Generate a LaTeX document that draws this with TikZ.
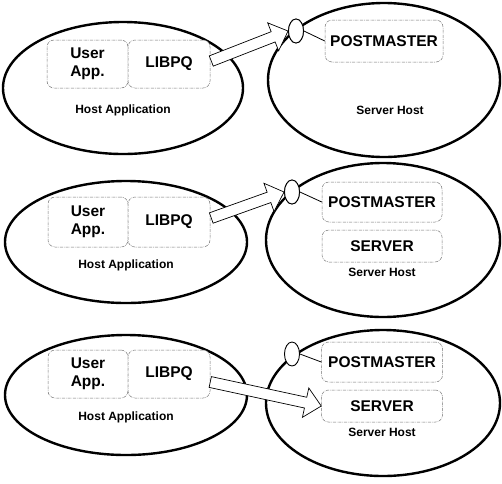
\documentclass[tikz,border=0pt]{standalone}
\usepackage{fontspec}
\setmainfont{Liberation Sans}
\usetikzlibrary{shapes.geometric,calc}
\tikzset{
  host/.style={ellipse,draw=black,line width=2.4pt,fill=white,inner sep=0pt},
  portsty/.style={ellipse,draw=black,line width=0.9pt,fill=white,inner sep=0pt,minimum width=15pt,minimum height=24pt},
  boxsty/.style={rectangle,rounded corners=7pt,draw=black!55,line width=0.5pt,
     dash pattern=on 3pt off 1pt on 0.6pt off 1pt,fill=white,inner sep=0pt,
     font=\fontsize{15.5}{18}\selectfont\bfseries,align=center},
  lbl/.style={font=\fontsize{12}{14}\selectfont\bfseries,inner sep=0pt},
  arrowsty/.style={draw=black,line width=0.7pt,fill=white,line join=miter},
  wire/.style={draw=black,line width=0.8pt}
}
\newcommand{\holarrow}[2]{%
  \coordinate (hbase) at ($(#2)!16pt!(#1)$);
  \filldraw[arrowsty] ($(#1)!5.5pt!90:(#2)$) -- ($(hbase)!5.5pt!90:(#2)$)
    -- ($(hbase)!15pt!90:(#2)$) -- (#2) -- ($(hbase)!15pt!-90:(#2)$)
    -- ($(hbase)!5.5pt!-90:(#2)$) -- ($(#1)!5.5pt!-90:(#2)$) -- cycle;}
\begin{document}
\begin{tikzpicture}[x=1pt,y=-1pt]
\useasboundingbox (0,0) rectangle (502,483);
% ---------- panel 1 ----------
\node[host,minimum width=240pt,minimum height=132pt] (h1) at (123,88) {};
\node[host,minimum width=232pt,minimum height=154pt] (s1) at (384,80) {};
\node[boxsty,minimum width=81pt,minimum height=48pt] (app1) at (87.5,64) {User\\App.};
\node[boxsty,minimum width=82pt,minimum height=48pt] (lib1) at (169,64) {LIBPQ};
\node[lbl] (hl1) at (123,110) {Host Application};
\node[boxsty,minimum width=118pt,minimum height=42pt] (pm1) at (384,41) {POSTMASTER};
\node[lbl] (sl1) at (390,110) {Server Host};
\coordinate (t1) at ($(lib1.east)+(1,-3)$);
\node[portsty] (port1) at (296,31) {};
\holarrow{t1}{port1.west}
\node[portsty] at (port1) {};
\draw[wire] (port1.east) -- (pm1.west);
% ---------- panel 2 ----------
\node[host,minimum width=242pt,minimum height=122pt] (h2) at (126,242) {};
\node[host,minimum width=234pt,minimum height=154pt] (s2) at (383,240) {};
\node[boxsty,minimum width=80pt,minimum height=50pt] (app2) at (88,222) {User\\App.};
\node[boxsty,minimum width=82pt,minimum height=50pt] (lib2) at (169,222) {LIBPQ};
\node[lbl] (hl2) at (126,265) {Host Application};
\node[boxsty,minimum width=120pt,minimum height=40pt] (pm2) at (382,202) {POSTMASTER};
\node[boxsty,minimum width=120pt,minimum height=32pt] (sv2) at (382,246) {SERVER};
\node[lbl] (sl2) at (382,272) {Server Host};
\coordinate (t2) at ($(lib2.east)+(1,-4)$);
\node[portsty] (port2) at (292,192) {};
\holarrow{t2}{port2.west}
\node[portsty] at (port2) {};
\draw[wire] (port2.east) -- (pm2.west);
% ---------- panel 3 ----------
\node[host,minimum width=242pt,minimum height=120pt] (h3) at (126,395) {};
\node[host,minimum width=234pt,minimum height=146pt] (s3) at (383,403) {};
\node[boxsty,minimum width=80pt,minimum height=48pt] (app3) at (88,374) {User\\App.};
\node[boxsty,minimum width=82pt,minimum height=48pt] (lib3) at (169,374) {LIBPQ};
\node[lbl] (hl3) at (126,417) {Host Application};
\node[boxsty,minimum width=121pt,minimum height=40pt] (pm3) at (382,362) {POSTMASTER};
\node[boxsty,minimum width=121pt,minimum height=32pt] (sv3) at (382,406) {SERVER};
\node[lbl] (sl3) at (382,432) {Server Host};
\node[portsty] (port3) at (292,354) {};
\draw[wire] (port3.east) -- (pm3.west);
\coordinate (t3) at ($(lib3.east)+(0,8)$);
\holarrow{t3}{sv3.west}
\end{tikzpicture}
\end{document}
